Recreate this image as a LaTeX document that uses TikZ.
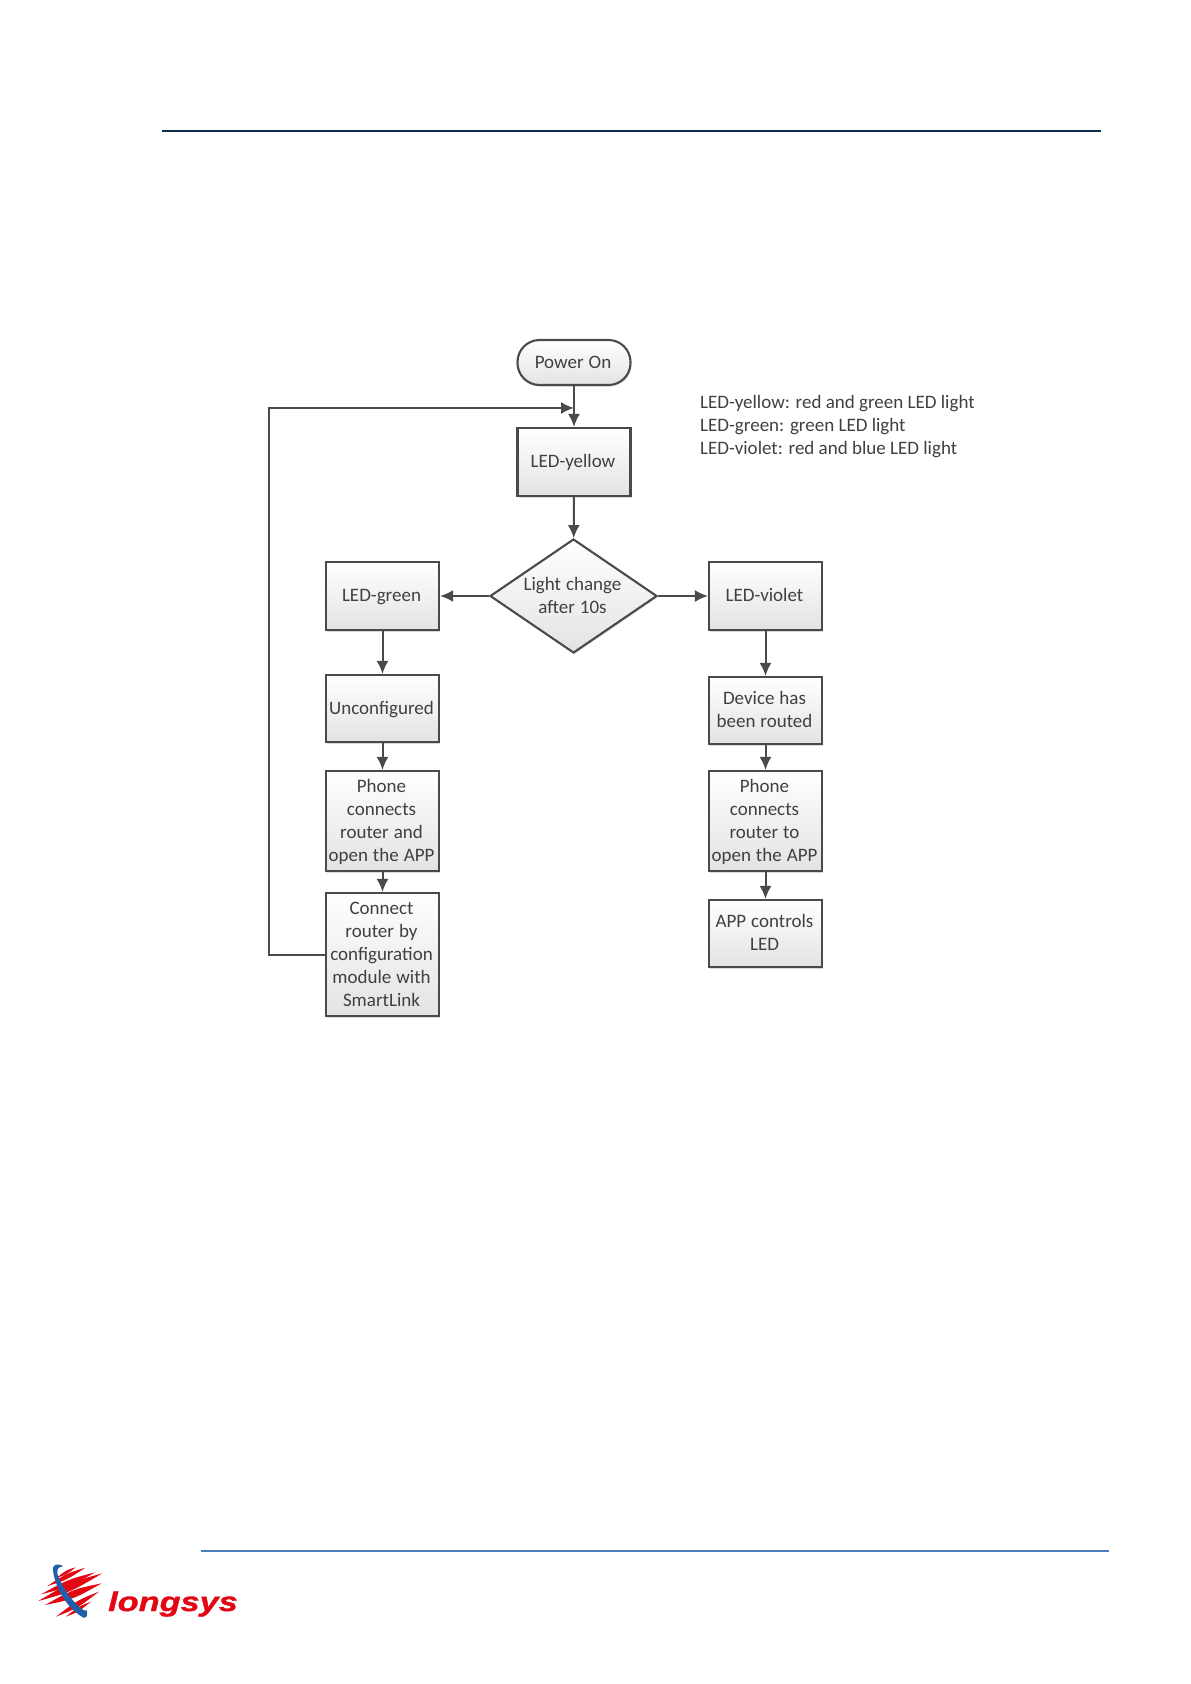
\documentclass[tikz,border=0pt]{standalone}
\usepackage{fontspec}
\setmainfont{Carlito}
\newfontfamily\boxfont{Carlito}
\newfontfamily\logofont[FakeStretch=1.27,FakeBold=1.2]{Liberation Sans}
\usetikzlibrary{shapes.geometric,arrows.meta,shadows}
\definecolor{ink}{HTML}{404040}
\definecolor{edgeline}{HTML}{4A4A4A}
\definecolor{logored}{HTML}{E30613}
\definecolor{logoblue}{HTML}{1F5FA8}
\definecolor{topline}{HTML}{0F2A50}
\definecolor{footline}{HTML}{4A7EBB}
\newcommand{\bl}[1]{\rule[-6pt]{0pt}{23pt}{\spaceskip=5pt\relax #1}\kern2pt}
\tikzset{
  flow/.style={draw=edgeline,line width=2.1pt,top color=white,bottom color=black!11,text=ink,align=center,font=\boxfont\fontsize{19}{23}\selectfont,inner sep=0pt,minimum width=113pt,text width=113pt,
    drop shadow={shadow xshift=1pt,shadow yshift=-1.5pt,fill=black!15,opacity=1}},
  conn/.style={draw=edgeline,line width=2pt,-{Latex[length=13pt,width=12pt]}},
  streak/.style={fill=logored,draw=none},
}
\begin{document}
\begin{tikzpicture}[x=1pt,y=-1pt]
\useasboundingbox (0,0) rectangle (1191,1684);
\fill[white] (0,0) rectangle (1191,1684);
\draw[color=topline,line width=1.1pt] (162,131) -- (1101,131);
\draw[color=footline,line width=1.1pt] (201,1551) -- (1108.5,1551);

\node[flow,rounded corners=22pt,minimum height=45pt] (power) at (574,362.5) {\bl{Power On}};
\node[flow,minimum height=68pt] (yellow) at (574,462) {\bl{LED-yellow}};
\node[flow,diamond,aspect=1.46,minimum width=167pt,minimum height=114pt,text width=125pt,inner sep=-35pt] (dec) at (573.5,596) {\bl{Light change}\\\bl{after 10s}};
\node[flow,minimum height=68pt] (green) at (382.5,596) {\bl{LED-green}};
\node[flow,minimum height=68pt] (violet) at (765.5,596) {\bl{LED-violet}};
\node[flow,minimum height=67pt] (uncon) at (382.5,708.5) {\bl{Unconfigured}};
\node[flow,minimum height=67pt] (routed) at (765.5,710.5) {\bl{Device has}\\\bl{been routed}};
\node[flow,minimum height=100pt] (phoneL) at (382.5,821) {\bl{Phone}\\\bl{connects}\\\bl{router and}\\\bl{open the APP}};
\node[flow,minimum height=100pt] (phoneR) at (765.5,821) {\bl{Phone}\\\bl{connects}\\\bl{router to}\\\bl{open the APP}};
\node[flow,minimum height=123pt] (cfg) at (382.5,954.5) {\bl{Connect}\\\bl{router by}\\\bl{configuration}\\\bl{module with}\\\bl{SmartLink}};
\node[flow,minimum height=67pt] (ctl) at (765.5,933.5) {\bl{APP controls}\\\bl{LED}};

\node[anchor=north west,inner sep=0pt,text=ink,align=left,font=\fontsize{19}{23}\selectfont] (legend) at (700,395) {LED-yellow: red and green LED light\\LED-green: green LED light\\LED-violet: red and blue LED light};

\draw[conn] (power) -- (yellow);
\draw[conn] (yellow) -- (dec);
\draw[conn] (dec) -- (green);
\draw[conn] (dec) -- (violet);
\draw[conn] (green) -- (uncon);
\draw[conn] (uncon) -- (phoneL);
\draw[conn] (phoneL) -- (cfg);
\draw[conn] (violet) -- (routed);
\draw[conn] (routed) -- (phoneR);
\draw[conn] (phoneR) -- (ctl);
\coordinate (loopA) at (269,954.5);
\coordinate (loopB) at (269,408);
\coordinate (loopC) at (574,408);
\draw[conn] (cfg.west) -- (loopA) -- (loopB) -- (loopC);

% logo, in coordinates of a 3x view of the mark
\begin{scope}[shift={(30,1555)},x=0.3333pt,y=-0.3333pt]
\foreach \ax/\ay/\bx/\by/\w in {80/68/137/37/7, 52/93/166/38/10, 33/118/196/52/12, 25/138/217/55/15, 45/150/215/85/15, 78/185/207/110/12, 108/185/183/140/8}{
  \fill[streak] (\ax,\ay) .. controls ({(\ax+\bx)/2},{(\ay+\by)/2-\w}) .. (\bx,\by) .. controls ({(\ax+\bx)/2},{(\ay+\by)/2+\w}) .. (\ax,\ay);
}
\fill[logoblue] (100,33) .. controls (86,26) and (72,27) .. (69,38) .. controls (68,70) and (95,150) .. (160,188) .. controls (170,190) and (174,180) .. (170,165) .. controls (166,178) and (112,130) .. (85,65) .. controls (78,45) and (82,36) .. (100,33);
\end{scope}
\node[anchor=base west,inner sep=0pt,text=logored,font=\logofont\bfseries\itshape\fontsize{27}{27}\selectfont] (logotext) at (108,1611) {longsys};
\end{tikzpicture}
\end{document}
